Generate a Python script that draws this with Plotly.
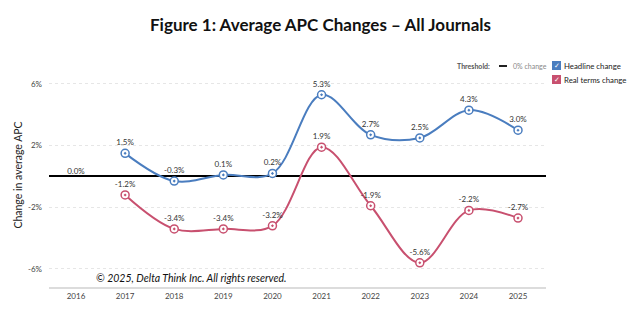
import plotly.graph_objects as go

years = [2016, 2017, 2018, 2019, 2020, 2021, 2022, 2023, 2024, 2025]
line_years = [2017, 2018, 2019, 2020, 2021, 2022, 2023, 2024, 2025]
headline = [1.5, -0.3, 0.1, 0.2, 5.3, 2.7, 2.5, 4.3, 3.0]
real_terms = [-1.2, -3.4, -3.4, -3.2, 1.9, -1.9, -5.6, -2.2, -2.7]
baseline_year = [2016]
baseline_value = [0.0]
ytick_vals = [6, 2, -2, -6]
ytick_text = ["6%", "2%", "-2%", "-6%"]

BLUE = "#4a7dbf"
RED = "#c8506f"
LABEL_FONT = dict(family="Lato", size=8, color="#333")

W, H = 640, 326
ML, MR, MT, MB = 49, 94, 63, 39
PW, PH = W - ML - MR, H - MT - MB

fig = go.Figure()

def add_series(vals, color, name):
    fig.add_trace(go.Scatter(
        x=line_years, y=vals, mode="lines+markers+text", name=name,
        line=dict(color=color, width=2, shape="spline", smoothing=1),
        marker=dict(symbol="circle-dot", size=8, color="white",
                    line=dict(color=color, width=1.5)),
        text=[f"{v:.1f}%" for v in vals], textposition="top center",
        textfont=LABEL_FONT, showlegend=False, cliponaxis=False))

add_series(headline, BLUE, "Headline change")
add_series(real_terms, RED, "Real terms change")

fig.add_trace(go.Scatter(
    x=baseline_year, y=baseline_value, mode="text",
    text=[f"{v:.1f}%" for v in baseline_value], textposition="top center",
    textfont=LABEL_FONT, showlegend=False))

fig.update_layout(
    width=W, height=H,
    margin=dict(l=ML, r=MR, t=MT, b=MB),
    paper_bgcolor="white", plot_bgcolor="white",
    font=dict(family="Lato", color="#444"),
    xaxis=dict(range=[2015.45, 2025.57], tickvals=years,
               ticktext=[str(y) for y in years],
               tickfont=dict(size=8, color="#444"),
               showgrid=False, zeroline=False,
               showline=True, linecolor="#dcdcdc", linewidth=2,
               ticks=""),
    yaxis=dict(range=[-7.17, 7.36], tickvals=ytick_vals, ticktext=ytick_text,
               tickfont=dict(size=8, color="#444"),
               showgrid=True, gridcolor="#e6e6e6", griddash="dot", gridwidth=1,
               zeroline=True, zerolinecolor="black", zerolinewidth=2,
               ticks="", ticklabelstandoff=6,
               title=dict(text="Change in average APC",
                          font=dict(size=10.5, color="#222"), standoff=3)),
)


def paper_xy(px, py):
    return (px - ML) / PW, (H - MB - py) / PH


# Title
x, y = paper_xy(320, 25)
fig.add_annotation(x=x, y=y, xref="paper", yref="paper",
                   text="<b>Figure 1: Average APC Changes – All Journals</b>",
                   showarrow=False, font=dict(family="Lato", size=17, color="#111"),
                   xanchor="center", yanchor="middle")

# Threshold legend
x, y = paper_xy(492, 66)
fig.add_annotation(x=x, y=y, xref="paper", yref="paper", text="<b>Threshold:</b>",
                   showarrow=False, xanchor="right", yanchor="middle",
                   font=dict(family="Lato", size=7, color="#555"))
x0, y0 = paper_xy(499, 66)
x1, _ = paper_xy(507, 66)
fig.add_shape(type="line", xref="paper", yref="paper", x0=x0, x1=x1, y0=y0, y1=y0,
              line=dict(color="#222", width=2))
x, y = paper_xy(511, 66)
fig.add_annotation(x=x, y=y, xref="paper", yref="paper", text="0% change",
                   showarrow=False, xanchor="left", yanchor="middle",
                   font=dict(family="Lato", size=7, color="#888"))

# Checkbox legend
for py, color, label in [(66, BLUE, "Headline change"), (80, RED, "Real terms change")]:
    ax0, ay0 = paper_xy(552, py - 5)
    ax1, ay1 = paper_xy(561, py + 4)
    fig.add_shape(type="rect", xref="paper", yref="paper", x0=ax0, x1=ax1,
                  y0=ay1, y1=ay0, fillcolor=color, line=dict(width=0))
    cx, cy = paper_xy(556.5, py - 0.5)
    fig.add_annotation(x=cx, y=cy, xref="paper", yref="paper", text="✓",
                       showarrow=False, xanchor="center", yanchor="middle",
                       font=dict(family="DejaVu Sans", size=7, color="white"))
    lx, ly = paper_xy(562, py)
    fig.add_annotation(x=lx, y=ly, xref="paper", yref="paper", text=label,
                       showarrow=False, xanchor="left", yanchor="middle",
                       font=dict(family="Lato", size=7.8, color="#222"))

# Copyright
x, y = paper_xy(94, 278)
fig.add_annotation(x=x, y=y, xref="paper", yref="paper",
                   text="<i>© 2025, Delta Think Inc. All rights reserved.</i>",
                   showarrow=False, xanchor="left", yanchor="middle",
                   font=dict(family="Lato", size=10.5, color="#111"))

fig.write_html("out.html")
